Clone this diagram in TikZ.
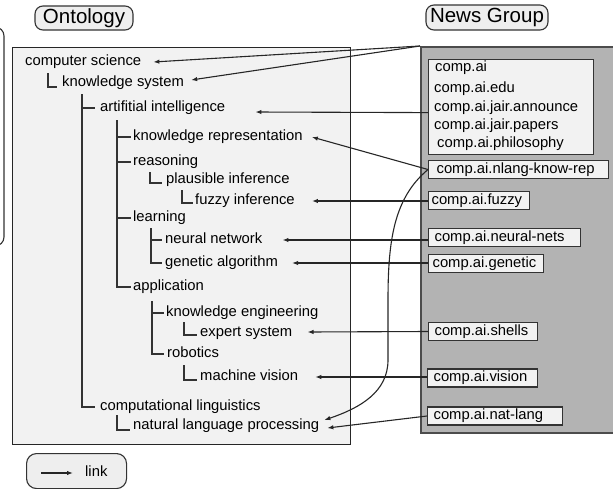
\documentclass[tikz,border=0pt]{standalone}
\usepackage{fontspec}
\setmainfont{Liberation Sans}
\usetikzlibrary{calc,arrows.meta}
\definecolor{ontofill}{HTML}{F2F2F2}
\definecolor{grayfill}{HTML}{B3B3B3}
\definecolor{boxfill}{HTML}{F2F2F2}
\definecolor{lblfill}{HTML}{EEEEEE}
\definecolor{linecol}{HTML}{333333}
\begin{document}
\begin{tikzpicture}[x=1pt,y=-1pt,
  txt/.style={anchor=west, inner sep=0pt, text height=11pt, text depth=3.5pt, font=\fontsize{14.8}{17}\selectfont},
  tree/.style={line width=1.3pt, draw=linecol},
  arr/.style={line width=1.1pt, draw=black!85, -{Latex[length=6pt,width=4.4pt]}},
  nbox/.style={draw=linecol, line width=1.2pt, fill=boxfill, anchor=west, inner ysep=0pt, minimum height=18pt, text height=11pt, text depth=3.5pt, align=left, font=\fontsize{14.8}{17}\selectfont},
  lbl/.style={draw=linecol, line width=1.1pt, fill=lblfill, rounded corners=8pt, inner sep=0pt, font=\fontsize{20.5}{24}\selectfont}
]
\useasboundingbox (0,0) rectangle (613,488);
% background frames
\draw[line width=1.1pt, draw=linecol, fill=white, rounded corners=9pt] (-20,27) rectangle (4,246);
\node[draw=black!85, line width=1.2pt, fill=ontofill, anchor=north west, minimum width=338pt, minimum height=397pt, inner sep=0pt] (onto) at (12,47) {};
\node[draw=black!70, line width=1.8pt, fill=grayfill, anchor=north west, minimum width=210pt, minimum height=386pt, inner sep=0pt] (gb) at (420,46) {};
% labels
\node[lbl, minimum width=98pt, minimum height=24pt] (lonto) at (84,18) {Ontology};
\node[lbl, minimum width=122pt, minimum height=25pt] (lnews) at (487,17.5) {News Group};
% ontology tree
\node[txt] (cs)  at (25,62)  {computer science};
\node[txt] (ks)  at (62,83)  {knowledge system};
\node[txt] (ai)  at (100,108) {artifitial intelligence};
\node[txt] (kr)  at (133,137) {knowledge representation};
\node[txt] (rs)  at (133,162) {reasoning};
\node[txt] (pi)  at (166,180) {plausible inference};
\node[txt] (fi)  at (195,201) {fuzzy inference};
\node[txt] (lr)  at (133,218) {learning};
\node[txt] (nn)  at (165,240) {neural network};
\node[txt] (ga)  at (165,263) {genetic algorithm};
\node[txt] (ap)  at (133,287) {application};
\node[txt] (ke)  at (166,313) {knowledge engineering};
\node[txt] (es)  at (200,333) {expert system};
\node[txt] (rb)  at (167,354) {robotics};
\node[txt] (mv)  at (200,377) {machine vision};
\node[txt] (cl)  at (100,407) {computational linguistics};
\node[txt] (nlp) at (133,426) {natural language processing};
% tree lines
\draw[tree] ($(cs.south west)+(23,4)$) |- ($(ks.west)+(-5,4)$);
\coordinate (v1) at ($(ks.south west)+(20,4)$);
\draw[tree] (v1) |- ($(cl.west)+(-5,0)$);
\draw[tree] (v1 |- ai.west) -- ($(ai.west)+(-5,0)$);
\coordinate (v2) at ($(ai.south west)+(17,5)$);
\draw[tree] (v2) |- ($(ap.west)+(-2,0)$);
\draw[tree] (v2 |- kr.west) -- ($(kr.west)+(-2,0)$);
\draw[tree] (v2 |- rs.west) -- ($(rs.west)+(-2,0)$);
\draw[tree] (v2 |- lr.west) -- ($(lr.west)+(-2,0)$);
\draw[tree] ($(rs.south west)+(17,3)$) |- ($(pi.west)+(-4,3)$);
\draw[tree] ($(pi.south west)+(16,3)$) |- ($(fi.west)+(-2,2)$);
\coordinate (v3) at ($(lr.south west)+(18,3)$);
\draw[tree] (v3) |- ($(ga.west)+(-3,0)$);
\draw[tree] (v3 |- nn.west) -- ($(nn.west)+(-3,0)$);
\coordinate (v4) at ($(ap.south west)+(19,7)$);
\draw[tree] (v4) |- ($(rb.west)+(-3,0)$);
\draw[tree] (v4 |- ke.west) -- ($(ke.west)+(-2,0)$);
\draw[tree] ($(ke.south west)+(18,2)$) |- ($(es.west)+(-3,2)$);
\draw[tree] ($(rb.south west)+(17,4)$) |- ($(mv.west)+(-3,3)$);
\draw[tree] ($(cl.south west)+(17,1)$) |- ($(nlp.west)+(-3,4)$);
% news group boxes
\node[draw=linecol, line width=1.2pt, fill=boxfill, anchor=north west, minimum width=165pt, minimum height=95pt, inner sep=0pt] (grp) at (428,59) {};
\node[txt] (g1) at (435,68)  {comp.ai};
\node[txt] (g2) at (434,89)  {comp.ai.edu};
\node[txt] (g3) at (434,108) {comp.ai.jair.announce};
\node[txt] (g4) at (434,126) {comp.ai.jair.papers};
\node[txt] (g5) at (437,144) {comp.ai.philosophy};
\node[nbox, inner xsep=8pt, text width=164pt] (nl)  at (428,169.5) {comp.ai.nlang-know-rep};
\node[nbox, inner xsep=3pt, text width=95pt]  (fz)  at (428,200.5) {comp.ai.fuzzy};
\node[nbox, inner xsep=6pt, text width=140pt] (nnb) at (428,237.5) {comp.ai.neural-nets};
\node[nbox, inner xsep=4pt, text width=107pt] (gab) at (428,263.5) {comp.ai.genetic};
\node[nbox, inner xsep=6pt, text width=97pt]  (sh)  at (428,331.5) {comp.ai.shells};
\node[nbox, inner xsep=6pt, text width=98pt]  (vi)  at (427,378)   {comp.ai.vision};
\node[nbox, inner xsep=6pt, text width=123pt] (nat) at (427,416)   {comp.ai.nat-lang};
% links
\draw[arr] (gb.north west) -- ($(cs.east)+(12,0)$);
\draw[arr] (gb.north west) -- ($(ks.east)+(7,-3)$);
\draw[arr] ($(grp.west)+(0,5.5)$) -- ($(ai.east)+(30,4)$);
\draw[arr] (nl.west) -- ($(kr.east)+(9,0)$);
\draw[arr] (nl.west) .. controls (394,198) and (388,240) .. (388,300) -- (388,360) .. controls (388,392) and (360,408) .. ($(nlp.east)+(5,-6)$);
\draw[arr] (fz.west |- fi.east) -- ($(fi.east)+(17,0)$);
\draw[arr] (nnb.west |- nn.east) -- ($(nn.east)+(20,0)$);
\draw[arr] (gab.west |- ga.east) -- ($(ga.east)+(14,0)$);
\draw[arr] (sh.west) -- ($(es.east)+(15,-1)$);
\draw[arr] (vi.west |- mv.east) -- ($(mv.east)+(17,0)$);
\draw[arr] (nat.west) -- ($(nlp.east)+(8,2)$);
% legend
\node[draw=linecol, line width=1.1pt, fill=lblfill, rounded corners=10pt, anchor=north west, minimum width=100pt, minimum height=35pt, inner sep=0pt] (leg) at (26,453) {};
\coordinate (la1) at (41,473);
\coordinate (la2) at (73,473);
\draw[arr] (la1) -- (la2);
\node[txt] (lk) at (85,473) {link};
\end{tikzpicture}
\end{document}
